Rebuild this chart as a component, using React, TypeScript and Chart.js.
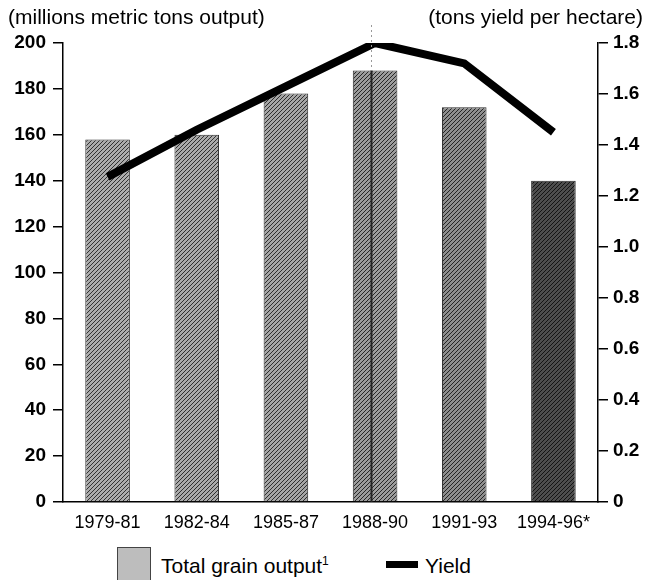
import React, { useEffect, useRef } from "react";
import { Chart, registerables } from "chart.js";

Chart.register(...registerables);

const categories = ["1979-81", "1982-84", "1985-87", "1988-90", "1991-93", "1994-96*"];
const grainOutput = [158, 160, 178, 188, 172, 140];
const yieldPerHectare = [1.275, 1.46, 1.63, 1.8, 1.72, 1.45];
const leftTicks = [0, 20, 40, 60, 80, 100, 120, 140, 160, 180, 200];
const rightTicks = [0, 0.2, 0.4, 0.6, 0.8, 1.0, 1.2, 1.4, 1.6, 1.8];
// [light, dark] tones of each bar's dithered texture
const barTones: [number, number][] = [
  [172, 50],
  [170, 48],
  [166, 46],
  [156, 40],
  [142, 36],
  [78, 20],
];

const FONT = "'Liberation Sans', Arial, Helvetica, sans-serif";

function makePattern(ctx: CanvasRenderingContext2D, light: number, dark: number) {
  const tile = document.createElement("canvas");
  tile.width = 4;
  tile.height = 4;
  const t = tile.getContext("2d")!;
  t.fillStyle = `rgb(${light},${light},${light})`;
  t.fillRect(0, 0, 4, 4);
  t.fillStyle = `rgb(${dark},${dark},${dark})`;
  for (let i = 0; i < 4; i++) t.fillRect(i, 3 - i, 1, 1);
  return ctx.createPattern(tile, "repeat")!;
}

const foldLine = {
  id: "foldLine",
  afterDatasetsDraw(chart: any) {
    const { ctx, scales } = chart;
    const x = Math.round(scales.x.getPixelForValue(3)) - 3.5;
    const yTop = scales.y.getPixelForValue(grainOutput[3]);
    const yBottom = scales.y.getPixelForValue(0);
    ctx.save();
    ctx.strokeStyle = "#222";
    ctx.lineWidth = 2;
    ctx.beginPath();
    ctx.moveTo(x, yTop);
    ctx.lineTo(x, yBottom);
    ctx.stroke();
    ctx.strokeStyle = "#999";
    ctx.lineWidth = 1;
    ctx.setLineDash([2, 3]);
    ctx.beginPath();
    ctx.moveTo(x, chart.chartArea.top - 18);
    ctx.lineTo(x, yTop);
    ctx.stroke();
    ctx.restore();
  },
};

export default function App() {
  const canvasRef = useRef<HTMLCanvasElement | null>(null);

  useEffect(() => {
    const ctx = canvasRef.current!.getContext("2d")!;
    const patterns = barTones.map(([l, d]) => makePattern(ctx, l, d));
    const chart = new Chart(ctx, {
      type: "bar",
      plugins: [foldLine],
      data: {
        labels: categories,
        datasets: [
          {
            type: "line",
            label: "Yield",
            data: yieldPerHectare,
            yAxisID: "y1",
            borderColor: "#000",
            borderWidth: 8,
            pointRadius: 0,
            tension: 0,
            borderJoinStyle: "miter",
            order: 0,
          } as any,
          {
            type: "bar",
            label: "Total grain output",
            data: grainOutput,
            yAxisID: "y",
            backgroundColor: patterns,
            borderColor: "#2a2a2a",
            borderWidth: 1,
            barPercentage: 0.5,
            categoryPercentage: 1.0,
            order: 1,
          },
        ],
      },
      options: {
        responsive: false,
        animation: false,
        layout: { padding: { top: 43, left: 0, right: 0, bottom: 0 } },
        plugins: { legend: { display: false }, tooltip: { enabled: false }, title: { display: false } },
        scales: {
          x: {
            grid: { display: false, drawTicks: false },
            border: { color: "#000", width: 1.5 },
            ticks: { color: "#000", font: { family: FONT, size: 18 }, padding: 10, maxRotation: 0 },
            afterFit: (s: any) => {
              s.height = 38;
            },
          },
          y: {
            position: "left",
            min: 0,
            max: 200,
            afterBuildTicks: (s: any) => {
              s.ticks = leftTicks.map((v) => ({ value: v }));
            },
            grid: { drawOnChartArea: false, color: "#000", tickLength: 10, lineWidth: 1.5 },
            border: { color: "#000", width: 1.5 },
            ticks: { color: "#000", font: { family: FONT, size: 19, weight: "bold" }, padding: 7 },
            afterFit: (s: any) => {
              s.width = 63;
            },
          },
          y1: {
            position: "right",
            min: 0,
            max: 1.8,
            afterBuildTicks: (s: any) => {
              s.ticks = rightTicks.map((v) => ({ value: v }));
            },
            grid: { drawOnChartArea: false, color: "#000", tickLength: 10, lineWidth: 1.5 },
            border: { color: "#000", width: 1.5 },
            ticks: {
              color: "#000",
              font: { family: FONT, size: 19, weight: "bold" },
              padding: 5,
              callback: (v: any) => (Number(v) === 0 ? "0" : Number(v).toFixed(1)),
            },
            afterFit: (s: any) => {
              s.width = 61;
            },
          },
        },
      },
    });
    return () => chart.destroy();
  }, []);

  const text: React.CSSProperties = { position: "absolute", fontFamily: FONT, color: "#000", whiteSpace: "nowrap", lineHeight: 1 };

  return (
    <div style={{ position: "absolute", left: 0, top: 0, width: 659, height: 580, background: "#fff", overflow: "hidden" }}>
      <canvas ref={canvasRef} width={659} height={540} style={{ position: "absolute", left: 0, top: 0, width: 659, height: 540 }} />
      <div style={{ ...text, left: 8, top: 6, fontSize: 21 }}>(millions metric tons output)</div>
      <div style={{ ...text, right: 16, top: 6, fontSize: 21 }}>(tons yield per hectare)</div>
      <div
        style={{
          position: "absolute",
          left: 117,
          top: 547,
          width: 34,
          height: 34,
          background: "#bdbdbd",
          border: "1px solid #444",
          boxSizing: "border-box",
        }}
      />
      <div style={{ ...text, left: 161, top: 555, fontSize: 21 }}>
        Total grain output<sup style={{ fontSize: 12, verticalAlign: "top", position: "relative", top: 0 }}>1</sup>
      </div>
      <div style={{ position: "absolute", left: 386, top: 561, width: 32, height: 7, background: "#000" }} />
      <div style={{ ...text, left: 425, top: 555, fontSize: 21 }}>Yield</div>
    </div>
  );
}
